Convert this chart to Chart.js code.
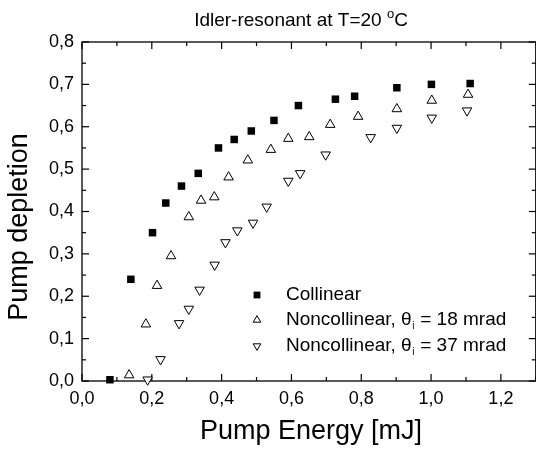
<!DOCTYPE html>
<html><head><meta charset="utf-8">
<script src="https://cdn.jsdelivr.net/npm/chart.js@4.4.1/dist/chart.umd.min.js"></script>
<style>html,body{margin:0;padding:0;background:#fff;}#wrap{width:536px;height:450px;overflow:hidden;}</style>
</head><body><div id="wrap"><canvas id="c" width="536" height="450"></canvas></div>
<script>
const FONT = '"Liberation Sans", Arial, Helvetica, sans-serif';

const collinearX = [0.080, 0.140, 0.202, 0.240, 0.285, 0.333, 0.391, 0.436, 0.485, 0.550, 0.620, 0.726, 0.781, 0.902, 1.001, 1.112];
const collinearY = [0.003, 0.240, 0.350, 0.420, 0.460, 0.490, 0.550, 0.570, 0.590, 0.615, 0.650, 0.665, 0.672, 0.692, 0.700, 0.702];

const nc18X = [0.135, 0.183, 0.215, 0.255, 0.306, 0.341, 0.379, 0.420, 0.475, 0.541, 0.591, 0.651, 0.711, 0.791, 0.902, 1.002, 1.106];
const nc18Y = [0.014, 0.134, 0.225, 0.295, 0.387, 0.426, 0.434, 0.481, 0.521, 0.546, 0.572, 0.576, 0.605, 0.624, 0.642, 0.662, 0.676];

const nc37X = [0.188, 0.225, 0.278, 0.306, 0.337, 0.380, 0.411, 0.445, 0.490, 0.529, 0.591, 0.625, 0.698, 0.827, 0.902, 1.002, 1.103];
const nc37Y = [0.003, 0.051, 0.136, 0.170, 0.215, 0.274, 0.327, 0.355, 0.373, 0.411, 0.472, 0.490, 0.534, 0.575, 0.597, 0.621, 0.638];

const xTicks = [0, 0.2, 0.4, 0.6, 0.8, 1.0, 1.2];
const xMinorTicks = [0.1, 0.3, 0.5, 0.7, 0.9, 1.1, 1.3];
const xFrameEnd = 1.3;
const yTicks = [0, 0.1, 0.2, 0.3, 0.4, 0.5, 0.6, 0.7, 0.8];
const yMinorTicks = [0.05, 0.15, 0.25, 0.35, 0.45, 0.55, 0.65, 0.75];

const seriesLabels = ['Collinear', 'Noncollinear, θ', 'Noncollinear, θ'];
const seriesSubs = ['', 'i', 'i'];
const seriesTails = ['', ' = 18 mrad', ' = 37 mrad'];

const toPts = (xs, ys) => xs.map((x, i) => ({x: x, y: ys[i]}));
const fmt = v => v.toFixed(1).replace('.', ',');

const decor = {
  id: 'decor',
  beforeDatasetsDraw(chart) {
    const ctx = chart.ctx, a = chart.chartArea;
    const xs = chart.scales.x, ys = chart.scales.y;
    const right = xs.getPixelForValue(xFrameEnd);
    ctx.save();
    ctx.strokeStyle = '#000';
    ctx.lineWidth = 1.3;
    ctx.strokeRect(a.left, a.top, right - a.left, a.bottom - a.top);
    ctx.lineWidth = 1.2;
    const tk = (vals, len) => {
      vals.forEach(v => {
        const px = xs.getPixelForValue(v);
        ctx.beginPath(); ctx.moveTo(px, a.bottom); ctx.lineTo(px, a.bottom - len); ctx.stroke();
        ctx.beginPath(); ctx.moveTo(px, a.top); ctx.lineTo(px, a.top + len); ctx.stroke();
      });
    };
    const tky = (vals, len) => {
      vals.forEach(v => {
        const py = ys.getPixelForValue(v);
        ctx.beginPath(); ctx.moveTo(a.left, py); ctx.lineTo(a.left + len, py); ctx.stroke();
        ctx.beginPath(); ctx.moveTo(right, py); ctx.lineTo(right - len, py); ctx.stroke();
      });
    };
    tk(xTicks, 7); tk(xMinorTicks, 4);
    tky(yTicks, 7); tky(yMinorTicks, 4);
    ctx.restore();
  },
  afterDraw(chart) {
    const ctx = chart.ctx;
    ctx.save();
    ctx.fillStyle = '#000';
    // Title with superscript
    const t1 = 'Idler-resonant at T=20 ', t2 = 'o', t3 = 'C';
    ctx.font = '19px ' + FONT;
    const w1 = ctx.measureText(t1).width, w3 = ctx.measureText(t3).width;
    ctx.font = '13px ' + FONT;
    const w2 = ctx.measureText(t2).width;
    let tx = 301 - (w1 + w2 + w3) / 2;
    const ty = 26;
    ctx.textBaseline = 'alphabetic'; ctx.textAlign = 'left';
    ctx.font = '19px ' + FONT; ctx.fillText(t1, tx, ty); tx += w1;
    ctx.font = '13px ' + FONT; ctx.fillText(t2, tx, ty - 8); tx += w2;
    ctx.font = '19px ' + FONT; ctx.fillText(t3, tx, ty);
    // Axis titles
    ctx.font = '27px ' + FONT;
    ctx.textAlign = 'center'; ctx.textBaseline = 'middle';
    ctx.fillText('Pump Energy [mJ]', 311, 432);
    ctx.save();
    ctx.translate(20, 227); ctx.rotate(-Math.PI / 2);
    ctx.fillText('Pump depletion', 0, 0);
    ctx.restore();
    // Legend
    const rows = [295, 320, 346];
    const mx = 257, lx = 286;
    ctx.strokeStyle = '#000'; ctx.lineWidth = 1;
    rows.forEach((ry, i) => {
      ctx.beginPath();
      if (i === 0) {
        ctx.fillStyle = '#000';
        ctx.fillRect(mx - 3.4, ry - 3.4, 6.8, 6.8);
      } else {
        const r = 4.4, dir = i === 1 ? 1 : -1;
        ctx.moveTo(mx, ry - dir * r);
        ctx.lineTo(mx + 0.866 * r, ry + dir * r / 2);
        ctx.lineTo(mx - 0.866 * r, ry + dir * r / 2);
        ctx.closePath();
        ctx.fillStyle = '#fff'; ctx.fill(); ctx.stroke();
      }
      ctx.fillStyle = '#000';
      ctx.textAlign = 'left'; ctx.textBaseline = 'middle';
      ctx.font = '19px ' + FONT;
      let x = lx;
      ctx.fillText(seriesLabels[i], x, ry);
      x += ctx.measureText(seriesLabels[i]).width;
      if (seriesSubs[i]) {
        ctx.font = '10px ' + FONT;
        ctx.fillText(seriesSubs[i], x + 0.5, ry + 6);
        x += ctx.measureText(seriesSubs[i]).width + 1;
        ctx.font = '19px ' + FONT;
        ctx.fillText(seriesTails[i], x, ry);
      }
    });
    ctx.restore();
  }
};

new Chart(document.getElementById('c').getContext('2d'), {
  type: 'scatter',
  data: {
    datasets: [
      {label: 'Collinear', data: toPts(collinearX, collinearY), pointStyle: 'rect', pointRadius: 5.3,
       backgroundColor: '#000', borderColor: '#000', borderWidth: 0},
      {label: 'Noncollinear, θi = 18 mrad', data: toPts(nc18X, nc18Y), pointStyle: 'triangle', pointRadius: 5.5,
       backgroundColor: '#fff', borderColor: '#000', borderWidth: 1},
      {label: 'Noncollinear, θi = 37 mrad', data: toPts(nc37X, nc37Y), pointStyle: 'triangle', rotation: 180, pointRadius: 5.5,
       backgroundColor: '#fff', borderColor: '#000', borderWidth: 1}
    ]
  },
  options: {
    responsive: false, animation: false, devicePixelRatio: 1,
    clip: false,
    layout: {padding: {top: 42, right: 0, left: 0, bottom: 0}},
    plugins: {legend: {display: false}, tooltip: {enabled: false}, title: {display: false}},
    scales: {
      x: {
        type: 'linear', min: 0, max: 1.282,
        afterBuildTicks: s => { s.ticks = xTicks.map(v => ({value: v})); },
        afterFit: s => { s.height = 69; s.paddingRight = 0; },
        grid: {display: false, drawTicks: false}, border: {display: false},
        ticks: {padding: 7, color: '#000', font: {size: 18, family: FONT}, maxRotation: 0, callback: v => fmt(v)}
      },
      y: {
        type: 'linear', min: 0, max: 0.8,
        afterBuildTicks: s => { s.ticks = yTicks.map(v => ({value: v})); },
        afterFit: s => { s.width = 82; },
        grid: {display: false, drawTicks: false}, border: {display: false},
        ticks: {padding: 8, color: '#000', font: {size: 18, family: FONT}, callback: v => fmt(v)}
      }
    }
  },
  plugins: [decor]
});
</script>
</body></html>
